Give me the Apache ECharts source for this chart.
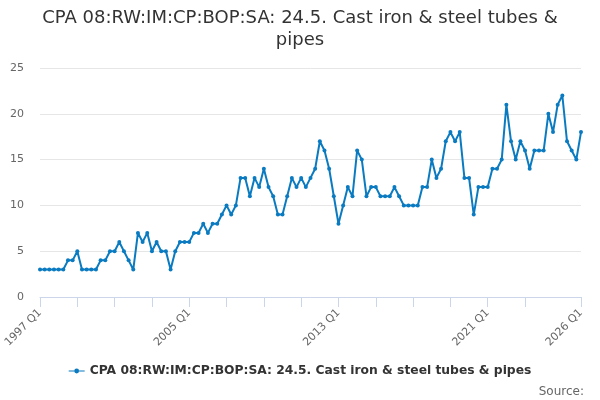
<!DOCTYPE html>
<html>
<head>
<meta charset="utf-8">
<script src="https://cdn.jsdelivr.net/npm/echarts@6/dist/echarts.min.js"></script>
<style>
html,body{margin:0;padding:0;background:#fff;}
#chart{width:600px;height:400px;}
</style>
</head>
<body>
<div id="chart"></div>
<script>
var seriesName = 'CPA 08:RW:IM:CP:BOP:SA: 24.5. Cast iron & steel tubes & pipes';
var startYear = 1997;
var endYear = 2026;

// values, quarterly from 1997 Q1 to 2026 Q1
var values = [
	3,3,3,3,3,3,4,4,5,3,3,3,3,
	4,4,5,5,6,5,4,3,
	7,6,7,5,6,5,5,3,
	5,6,6,6,7,7,8,7,
	8,8,9,10,9,10,13,13,11,
	13,12,14,12,11,9,9,
	11,13,12,13,12,13,14,
	17,16,14,11,8,10,12,11,
	16,15,11,12,12,11,11,11,
	12,11,10,10,10,10,12,12,
	15,13,14,17,18,17,18,
	13,13,9,12,12,12,14,14,15,
	21,17,15,17,16,14,16,16,16,
	20,18,21,22,17,16,15,18
];
var yTicks = [0,5,10,15,20,25];

var categories = [];
for(var y=startYear;y<=endYear;y++){
	for(var q=1;q<=4;q++){
		if(y==endYear && q>1) break;
		categories.push(y+' Q'+q);
	}
}
var last = categories.length-1;

var myChart = echarts.init(document.getElementById('chart'));
var option = {
	backgroundColor:'#fff',
	animation:false,
	textStyle:{fontFamily:'DejaVu Sans'},
	title:[{
		text:'CPA 08:RW:IM:CP:BOP:SA: 24.5. Cast iron & steel tubes &\npipes',
		left:'center',
		top:2,
		textStyle:{fontSize:18,fontWeight:'normal',color:'#333',lineHeight:22,align:'center',fontFamily:'DejaVu Sans'}
	},{
		text:'Source:',
		right:11,
		top:381,
		textStyle:{fontSize:12,fontWeight:'normal',color:'#666',fontFamily:'DejaVu Sans'}
	}],
	legend:{
		bottom:18,
		left:'center',
		itemWidth:16,
		itemHeight:8,
		icon:'path://M0,3.5 L16,3.5 L16,4.5 L0,4.5 Z M8,1.6 A2.4,2.4 0 1 1 7.99,1.6 Z',
		textStyle:{fontSize:12.3,fontWeight:'bold',color:'#333',fontFamily:'DejaVu Sans'},
		data:[seriesName]
	},
	grid:{left:40,right:19,top:68,bottom:103,containLabel:false},
	xAxis:{
		type:'category',
		boundaryGap:false,
		data:categories,
		axisLine:{lineStyle:{color:'#ccd6eb'}},
		axisTick:{
			alignWithLabel:true,
			length:10,
			lineStyle:{color:'#ccd6eb'},
			interval:function(i){ return (i%8==0 && i<=104) || i==last; }
		},
		axisLabel:{
			rotate:45,
			color:'#666',
			fontSize:11,
			margin:14,
			interval:function(i){ return i%32==0 || i==last; }
		}
	},
	yAxis:{
		type:'value',
		min:yTicks[0],
		max:yTicks[yTicks.length-1],
		interval:5,
		axisLine:{show:false},
		axisTick:{show:false},
		axisLabel:{color:'#666',fontSize:11,margin:16},
		splitLine:{lineStyle:{color:'#e6e6e6'}}
	},
	series:[{
		name:seriesName,
		type:'line',
		data:values,
		color:'#0a7bc1',
		symbol:'circle',
		symbolSize:4,
		showAllSymbol:true,
		lineStyle:{width:2,color:'#0a7bc1'},
		itemStyle:{color:'#0a7bc1'}
	}]
};
myChart.setOption(option);
</script>
</body>
</html>
